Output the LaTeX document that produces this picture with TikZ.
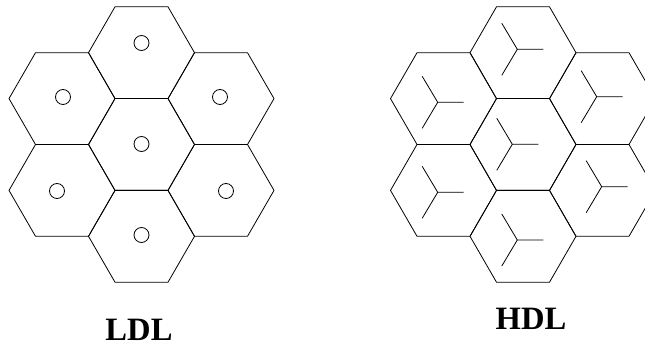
\documentclass[tikz,border=0pt]{standalone}
\usepackage{fontspec}
\setmainfont{Liberation Serif}
\usetikzlibrary{shapes.geometric}

\begin{document}
\begin{tikzpicture}[
  x=1pt,y=-1pt,
  line width=.8pt,
  cell/.style={regular polygon,regular polygon sides=6,draw,
    minimum size=106pt,inner sep=0pt,outer sep=0pt},
  site/.style={circle,draw,minimum size=15pt,inner sep=0pt},
  antenna/.pic={\draw (0,0) -- (26,0) (0,0) -- (-15.5,26) (0,0) -- (-15.5,-26);},
  caption/.style={font=\fontsize{32.6}{36}\selectfont\bfseries,anchor=base}
]
\clip (0,0) rectangle (645,347);

% LDL cluster
\node[cell] (ltop) at (141.5,52.7) {};
\node[cell] (lul)  at (62,98.6) {};
\node[cell] (lur)  at (221,98.6) {};
\node[cell] (lmid) at (141.5,144.5) {};
\node[cell] (lll)  at (62,190.4) {};
\node[cell] (llr)  at (221,190.4) {};
\node[cell] (lbot) at (141.5,236.3) {};

\node[site] (stop) at (141.5,43) {};
\node[site] (sul)  at (63,97) {};
\node[site] (sur)  at (220,97) {};
\node[site] (smid) at (141.5,144) {};
\node[site] (sll)  at (57,191) {};
\node[site] (slr)  at (226,191) {};
\node[site] (sbot) at (141.5,235) {};

% HDL cluster
\node[cell] (htop) at (523,52.7) {};
\node[cell] (hul)  at (443.5,98.6) {};
\node[cell] (hur)  at (602.5,98.6) {};
\node[cell] (hmid) at (523,144.5) {};
\node[cell] (hll)  at (443.5,190.4) {};
\node[cell] (hlr)  at (602.5,190.4) {};
\node[cell] (hbot) at (523,236.3) {};

\pic at (517.3,49.3) {antenna};
\pic at (437.7,102.3) {antenna};
\pic at (596.7,96.7) {antenna};
\pic at (512.3,144.3) {antenna};
\pic at (437.7,192.3) {antenna};
\pic at (601.7,186.7) {antenna};
\pic at (517.3,240) {antenna};

\node[caption] (ldl) at (139,340.5) {LDL};
\node[caption] (hdl) at (531,329.3) {HDL};
\end{tikzpicture}
\end{document}
